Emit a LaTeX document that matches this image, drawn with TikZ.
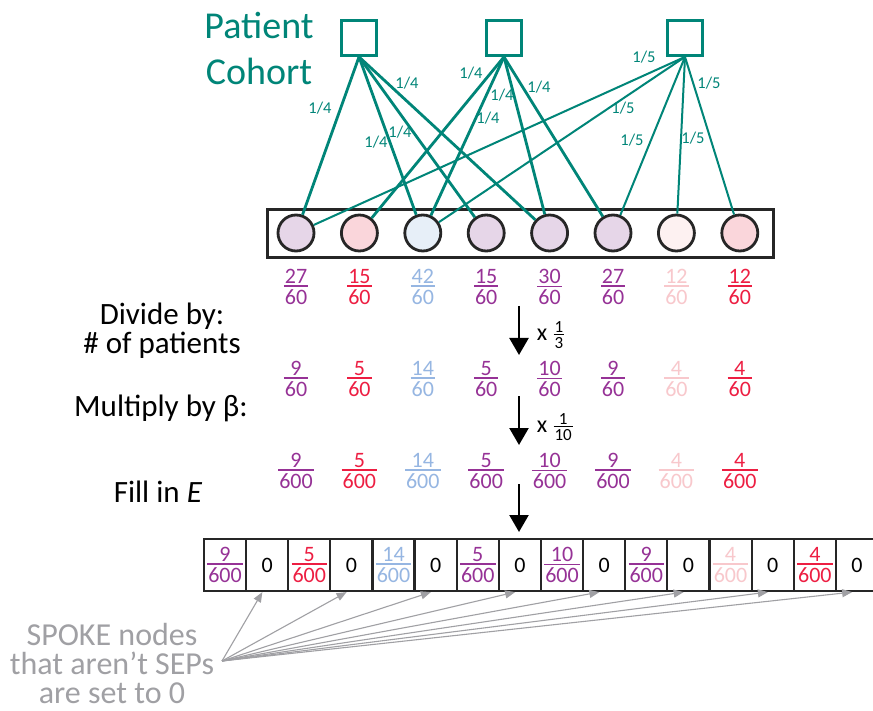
\documentclass[tikz,border=0pt]{standalone}
\usepackage{fontspec}
\setmainfont{Carlito}
\usetikzlibrary{arrows.meta, positioning}

\definecolor{cohort}{RGB}{0,133,120}
\definecolor{fracpurple}{RGB}{150,50,150}
\definecolor{fracred}{RGB}{237,30,66}
\definecolor{fracblue}{RGB}{150,182,226}
\definecolor{fracpink}{RGB}{248,200,204}
\definecolor{lav}{RGB}{230,214,232}
\definecolor{rose}{RGB}{250,214,219}
\definecolor{ice}{RGB}{231,239,248}
\definecolor{blush}{RGB}{253,241,241}
\definecolor{notegray}{RGB}{160,160,164}

% stacked fraction with a coloured bar
\newcommand{\fr}[2]{\vbox{\halign{\hfil\kern1pt##\kern1pt\hfil\cr#1\cr\noalign{\vskip1.5pt\hrule height1.4pt\vskip2.5pt}#2\cr}}}

\begin{document}
\begin{tikzpicture}[x=1pt, y=-1pt,
    patient/.style={rectangle, draw=cohort, line width=2.8pt, minimum size=35pt, inner sep=0pt},
    spoke/.style={circle, draw=black!85, line width=2.8pt, minimum size=36pt, inner sep=0pt},
    link/.style={cohort, line width=2.8pt},
    thinlink/.style={cohort, line width=2pt},
    wlabel/.style={text=cohort, inner sep=0pt, font=\fontsize{16.5}{16.5}\selectfont},
    frac/.style={inner sep=0pt, font=\fontsize{22}{22}\selectfont},
    cell/.style={rectangle, draw=black!85, line width=2.2pt, minimum width=42.13pt, minimum height=52pt, inner sep=0pt, font=\fontsize{22}{22}\selectfont},
    sidetext/.style={align=center, inner sep=0pt, font=\fontsize{31}{29}\selectfont},
    bigarrow/.style={line width=2.4pt, -{Triangle[length=17pt, width=19pt]}},
    pointer/.style={notegray, line width=1.1pt, -{Triangle[length=10pt, width=8pt]}}]

    \useasboundingbox (0,0) rectangle (873,711);
    \fill [white] (0,0) rectangle (873,711);
    \clip (0,0) rectangle (873,711);

    % patients
    \node (cohortlabel) [text=cohort, align=center, inner sep=0pt, font=\fontsize{38}{46}\selectfont] at (259,49) {Patient\\Cohort};
    \node (p1) [patient] at (359,38) {};
    \node (p2) [patient] at (504,38) {};
    \node (p3) [patient] at (685,38) {};

    % SEP row with weights
    \node (sepbox) [rectangle, draw=black!85, line width=3.2pt, minimum width=506pt, minimum height=48pt] at (520.5,233.5) {};
    \foreach \i/\fc/\tc/\a/\b in {1/lav/fracpurple/27/9, 2/rose/fracred/15/5, 3/ice/fracblue/42/14, 4/lav/fracpurple/15/5,
        5/lav/fracpurple/30/10, 6/lav/fracpurple/27/9, 7/blush/fracpink/12/4, 8/rose/fracred/12/4} {
        \node (c\i) [spoke, fill=\fc] at ({296+63.4*(\i-1)},233) {};
        \node (r\i) [frac, text=\tc] at ({296+63.4*(\i-1)},287) {\fr{\a}{60}};
        \node (s\i) [frac, text=\tc] at ({296+63.4*(\i-1)},379) {\fr{\b}{60}};
        \node (t\i) [frac, text=\tc] at ({296+63.4*(\i-1)},471) {\fr{\b}{600}};
        \node (f\i) [cell, text=\tc] at ({225+84.26*(\i-1)},565) {\fr{\b}{600}};
        \node (z\i) [cell] at ({267.13+84.26*(\i-1)},565) {0};
    }

    \foreach \j in {1,3,4,5} \draw [link] (p1.south) -- (c\j);
    \foreach \j in {2,3,5,6} \draw [link] (p2.south) -- (c\j);
    \foreach \j in {1,3,6,7,8} \draw [thinlink] (p3.south) -- (c\j);

    \foreach \x/\y [count=\k] in {320/108, 407/83, 400/132, 376/142, 471/73, 502/95, 539/87, 488/118}
        \node (q\k) [wlabel] at (\x,\y) {1/4};
    \foreach \x/\y [count=\k] in {644/57, 709/83, 623/108, 632/140, 693/138}
        \node (v\k) [wlabel] at (\x,\y) {1/5};

    % steps
    \node (divide) [sidetext] at (162,331) {Divide by:\\\# of patients};
    \node (multiply) [sidetext] at (161,408) {Multiply by β:};
    \node (fillin) [sidetext] at (158,492) {Fill in \textit{E}};

    \coordinate (a1) at (519,306);
    \coordinate (b1) at (519,355);
    \coordinate (a2) at (519,396);
    \coordinate (b2) at (519,445);
    \coordinate (a3) at (519,484);
    \coordinate (b3) at (519,532);
    \draw [bigarrow] (a1) -- (b1);
    \draw [bigarrow] (a2) -- (b2);
    \draw [bigarrow] (a3) -- (b3);

    \node (xthird) [inner sep=0pt, font=\fontsize{24}{24}\selectfont] at (542,335) {x};
    \node (third) [frac, font=\fontsize{17}{17}\selectfont, right=6pt of xthird] {\fr{1}{3}};
    \node (xtenth) [inner sep=0pt, font=\fontsize{24}{24}\selectfont] at (542,427) {x};
    \node (tenth) [frac, font=\fontsize{17}{17}\selectfont, right=6pt of xtenth] {\fr{1}{10}};

    % zero entries
    \node (note) [sidetext, text=notegray, font=\fontsize{32}{29}\selectfont] at (112,664) {SPOKE nodes\\that aren’t SEPs\\are set to 0};
    \coordinate (src) at (222,661);
    \foreach \i in {1,...,8} \draw [pointer] (src) -- (z\i.-100);
\end{tikzpicture}
\end{document}
